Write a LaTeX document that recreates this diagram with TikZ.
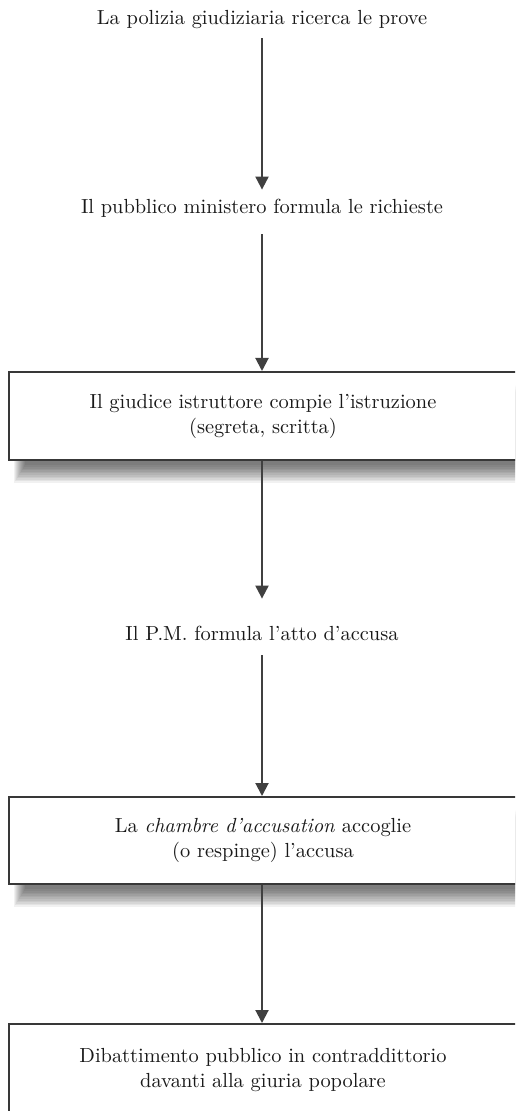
\documentclass[tikz,border=0pt]{standalone}
\usetikzlibrary{arrows.meta}
\begin{document}
\begin{tikzpicture}[x=0.5pt,y=-0.5pt,
  lbl/.style={font=\fontsize{10.2}{12.5}\selectfont, text=black!90, align=center, inner sep=0pt, minimum height=22pt},
  stepbox/.style={draw=black!78, line width=1pt, fill=white, font=\fontsize{10.2}{12.5}\selectfont, text=black!90, align=center, inner sep=0pt, minimum width=300pt, anchor=north west},
  arr/.style={draw=black!75, line width=1pt, -{Triangle[width=6.5pt,length=6.5pt]}}]
\useasboundingbox (0,0) rectangle (515,1111);
\clip (0,0) rectangle (515,1111);
\fill[white] (0,0) rectangle (515,1111);
% shadows
\foreach \ya/\yb in {371/459, 796/883}{
  \foreach \i in {0,...,11}{
    \fill[black, opacity=0.055] (14+\i*1.0, \ya+14+\i*0.6) rectangle (620, \yb+24-\i*1.6);
  }
}
\node[lbl] (t1) at (262,20) {La polizia giudiziaria ricerca le prove};
\node[lbl] (t2) at (262,208) {Il pubblico ministero formula le richieste};
\node[stepbox, minimum height=44pt] (b1) at (8,371) {\hspace*{-46pt}Il giudice istruttore compie l’istruzione\\\hspace*{-46pt}(segreta, scritta)};
\node[lbl] (t3) at (262,633) {Il P.M. formula l’atto d’accusa};
\node[stepbox, minimum height=43.5pt] (b2) at (8,796) {\hspace*{-46pt}La \textit{chambre d’accusation} accoglie\\\hspace*{-46pt}(o respinge) l’accusa};
\node[stepbox, minimum height=46pt] (b3) at (8,1023) {\hspace*{-46pt}Dibattimento pubblico in contraddittorio\\\hspace*{-46pt}davanti alla giuria popolare};
\draw[arr, shorten <=-2pt, shorten >=-2pt] (t1.south) -- (t2.north);
\draw[arr, shorten <=2pt] (t2.south) -- (t2.south |- b1.north);
\draw[arr, shorten >=6pt] (t2.south |- b1.south) -- (t3.north);
\draw[arr] (t3.south) -- (t3.south |- b2.north);
\draw[arr] (t3.south |- b2.south) -- (t3.south |- b3.north);
\end{tikzpicture}
\end{document}
